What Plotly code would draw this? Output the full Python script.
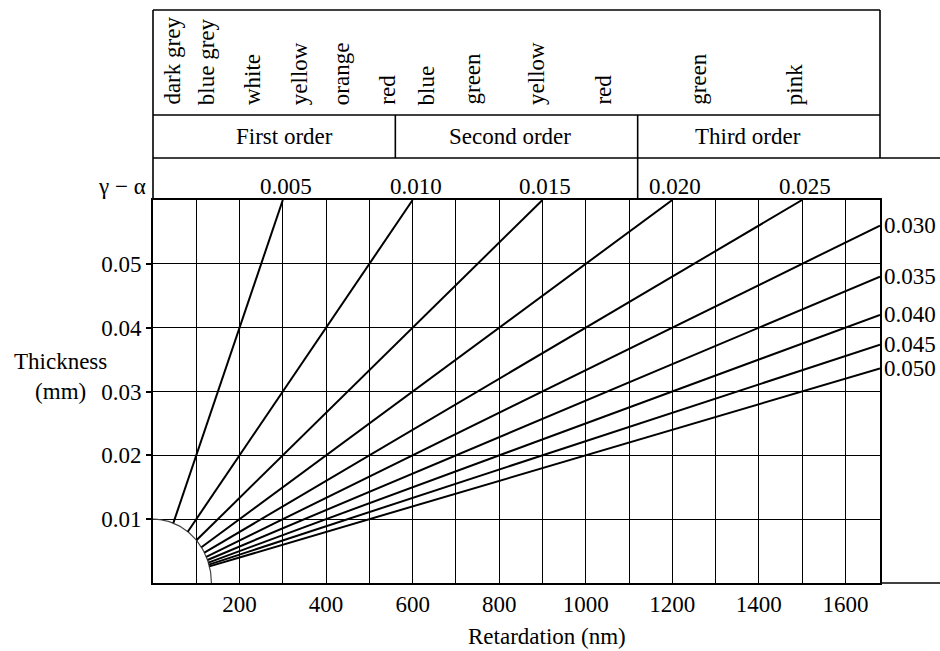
import numpy as np
import plotly.graph_objects as go

# ---------------- data ----------------
birefringence = [0.005, 0.010, 0.015, 0.020, 0.025, 0.030, 0.035, 0.040, 0.045, 0.050]
birefringence_labels = ["0.005", "0.010", "0.015", "0.020", "0.025",
                        "0.030", "0.035", "0.040", "0.045", "0.050"]
color_names = ["dark grey", "blue grey", "white", "yellow", "orange", "red",
               "blue", "green", "yellow", "red", "green", "pink"]
color_retardation = [43, 124, 230, 339, 436, 540, 632, 736, 886, 1039, 1259, 1483]
order_names = ["First order", "Second order", "Third order"]
order_bounds = [0, 560, 1120, 1680]
order_label_x = [304, 824, 1375]
x_tick_vals = [200, 400, 600, 800, 1000, 1200, 1400, 1600]
x_minor_vals = [100, 300, 500, 700, 900, 1100, 1300, 1500]
y_tick_vals = [0.01, 0.02, 0.03, 0.04, 0.05]
X_MAX = 1680
Y_MAX = 0.06
arc_radius_nm = 135
arc_radius_mm = 0.01

# ---------------- layout geometry ----------------
W, H = 940, 651
ML, MR, MT, MB = 153, 60, 200, 68
PW = W - ML - MR
PH = H - MT - MB
FONT = "Liberation Serif, Times New Roman, serif"
FS = 23


def py(pix):
    """pixel row -> paper y"""
    return (H - MB - pix) / PH


def pxp(pix):
    """pixel column -> paper x"""
    return (pix - ML) / PW


def dx(v):
    """data x -> paper x"""
    return v / X_MAX


fig = go.Figure()

# quarter ellipse near origin
t = np.linspace(0, np.pi / 2, 60)
fig.add_trace(go.Scatter(x=arc_radius_nm * np.cos(t), y=arc_radius_mm * np.sin(t),
                         mode="lines", line=dict(color="#444", width=1.2),
                         hoverinfo="skip", showlegend=False))

annotations = []
for d, lab in zip(birefringence, birefringence_labels):
    k = d * 1e6  # nm per mm
    t0 = 1.0 / np.sqrt((k / arc_radius_nm) ** 2 + (1.0 / arc_radius_mm) ** 2)
    r0 = k * t0
    if k * Y_MAX <= X_MAX:
        r1, t1 = k * Y_MAX, Y_MAX
        annotations.append(dict(x=r1, y=py(186), xref="x", yref="paper", text=lab,
                                showarrow=False, xanchor="center", yanchor="middle",
                                xshift=3, font=dict(family=FONT, size=FS, color="black")))
    else:
        r1, t1 = X_MAX, X_MAX / k
        annotations.append(dict(x=1, y=t1, xref="paper", yref="y", text=lab,
                                showarrow=False, xanchor="left", yanchor="middle",
                                xshift=2, font=dict(family=FONT, size=FS, color="black")))
    fig.add_trace(go.Scatter(x=[r0, r1], y=[t0, t1], mode="lines",
                             line=dict(color="black", width=2),
                             hoverinfo="skip", showlegend=False))

# colour names (rotated)
for name, xv in zip(color_names, color_retardation):
    annotations.append(dict(x=xv, y=py(107), xref="x", yref="paper", text=name,
                            textangle=-90, showarrow=False, xanchor="center",
                            yanchor="bottom",
                            font=dict(family=FONT, size=FS, color="black")))

# order names
for name, xv in zip(order_names, order_label_x):
    annotations.append(dict(x=xv, y=py(136), xref="x", yref="paper", text=name,
                            showarrow=False, xanchor="center", yanchor="middle",
                            font=dict(family=FONT, size=FS, color="black")))

annotations.append(dict(x=pxp(148), y=py(186), xref="paper", yref="paper",
                        text="γ − α", showarrow=False, xanchor="right", yanchor="middle",
                        font=dict(family=FONT, size=FS, color="black")))
annotations.append(dict(x=pxp(60), y=py(376), xref="paper", yref="paper",
                        text="Thickness<br>(mm)", showarrow=False, align="center",
                        xanchor="center", yanchor="middle",
                        font=dict(family=FONT, size=FS, color="black")))
annotations.append(dict(x=pxp(547), y=py(636), xref="paper", yref="paper",
                        text="Retardation (nm)", showarrow=False,
                        xanchor="center", yanchor="middle",
                        font=dict(family=FONT, size=FS, color="black")))

# table lines
LW = 1.6
shapes = []


def hline(x0, x1, yp):
    shapes.append(dict(type="line", xref="paper", yref="paper", x0=x0, x1=x1,
                       y0=yp, y1=yp, line=dict(color="black", width=LW)))


def vline(xp, y0, y1):
    shapes.append(dict(type="line", xref="paper", yref="paper", x0=xp, x1=xp,
                       y0=y0, y1=y1, line=dict(color="black", width=LW)))


hline(0, 1, py(10))
hline(0, 1, py(115))
hline(0, pxp(940), py(158))
hline(1, pxp(940), 0)
vline(0, 1, py(10))
vline(1, py(158), py(10))
for b in order_bounds[1:-1]:
    vline(dx(b), py(158), py(115))
vline(dx(order_bounds[2]), 1, py(158))

fig.update_layout(
    width=W, height=H,
    margin=dict(l=ML, r=MR, t=MT, b=MB),
    paper_bgcolor="white", plot_bgcolor="white",
    showlegend=False,
    annotations=annotations,
    shapes=shapes,
    font=dict(family=FONT, size=FS, color="black"),
    xaxis=dict(range=[0, X_MAX], tickmode="array", tickvals=x_tick_vals,
               ticktext=[str(v) for v in x_tick_vals],
               showgrid=True, gridcolor="black", gridwidth=1.4,
               minor=dict(tickmode="array", tickvals=x_minor_vals, showgrid=True,
                          gridcolor="black", gridwidth=1.4, ticks=""),
               showline=True, linecolor="black", linewidth=LW, mirror=True,
               ticks="", zeroline=False,
               tickfont=dict(family=FONT, size=FS, color="black")),
    yaxis=dict(range=[0, Y_MAX], tickmode="array", tickvals=y_tick_vals,
               ticktext=["%.2f" % v for v in y_tick_vals],
               showgrid=True, gridcolor="black", gridwidth=1.4,
               showline=True, linecolor="black", linewidth=LW, mirror=True,
               ticks="outside", ticklen=5, tickwidth=1.5, tickcolor="black",
               zeroline=False,
               tickfont=dict(family=FONT, size=FS, color="black")),
)

fig.write_html("out.html", config={"displayModeBar": False},
               post_script="document.body.style.margin='0';")
